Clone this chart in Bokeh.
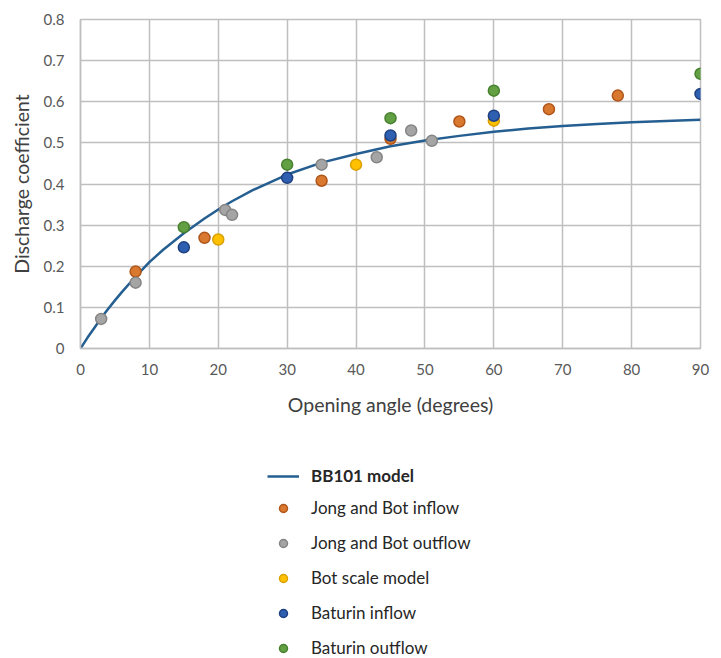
from bokeh.plotting import figure
from bokeh.layouts import column
from bokeh.models import Range1d, Legend, LegendItem, FixedTicker
from bokeh.embed import file_html
from bokeh.resources import INLINE

# BB101 model curve
model_angle = [0, 1, 2, 3, 4, 5, 6, 8, 10, 12, 15, 18, 20, 22, 25, 30, 35, 40, 45, 50, 55, 60, 65, 70, 75, 80, 85, 90]
model_cd = [0, 0.026, 0.05, 0.074, 0.096, 0.117, 0.137, 0.175, 0.21, 0.24, 0.28, 0.316, 0.338, 0.358, 0.385,
            0.423, 0.452, 0.473, 0.492, 0.506, 0.517, 0.527, 0.535, 0.541, 0.546, 0.55, 0.553, 0.556]

jb_in_angle = [8, 18, 35, 45, 55, 68, 78]
jb_in_cd = [0.187, 0.269, 0.408, 0.51, 0.552, 0.582, 0.615]

jb_out_angle = [3, 8, 21, 22, 35, 43, 48, 51]
jb_out_cd = [0.072, 0.16, 0.337, 0.325, 0.447, 0.465, 0.53, 0.505]

bot_angle = [20, 40, 60]
bot_cd = [0.265, 0.447, 0.554]

bat_in_angle = [15, 30, 45, 60, 90]
bat_in_cd = [0.246, 0.415, 0.518, 0.566, 0.619]

bat_out_angle = [15, 30, 45, 60, 90]
bat_out_cd = [0.295, 0.447, 0.56, 0.627, 0.668]

series_labels = ["BB101 model", "Jong and Bot inflow", "Jong and Bot outflow",
                 "Bot scale model", "Baturin inflow", "Baturin outflow"]

x_ticks = [0, 10, 20, 30, 40, 50, 60, 70, 80, 90]
y_ticks = [0, 0.1, 0.2, 0.3, 0.4, 0.5, 0.6, 0.7, 0.8]

FONT = "Lato"
LINE_COLOR = "#255E91"
PT_STYLES = [("#D9782F", "#B0561A"), ("#A5A5A5", "#858585"), ("#FFC000", "#D9A000"),
             ("#2E5FB0", "#1F4080"), ("#62A043", "#47802E")]

MAIN_H = 418
p = figure(width=713, height=MAIN_H, output_backend="svg", toolbar_location=None,
           x_range=Range1d(0, 90), y_range=Range1d(0, 0.8),
           min_border_left=80, min_border_right=13, min_border_top=19, min_border_bottom=0)
p.outline_line_color = "#BFBFBF"
p.outline_line_width = 1.5
p.background_fill_color = "white"
p.border_fill_color = "white"

for ax in (p.xaxis[0], p.yaxis[0]):
    ax.axis_line_color = "#BFBFBF"
    ax.axis_line_width = 1.5
    ax.major_tick_line_color = None
    ax.minor_tick_line_color = None
    ax.major_tick_out = 0
    ax.major_tick_in = 0
    ax.major_label_text_font = FONT
    ax.major_label_text_font_size = "15px"
    ax.major_label_text_color = "#595959"
    ax.axis_label_text_font = FONT
    ax.axis_label_text_font_size = "19.5px"
    ax.axis_label_text_color = "#404040"
    ax.axis_label_text_font_style = "normal"

p.xaxis.ticker = FixedTicker(ticks=x_ticks)
p.yaxis.ticker = FixedTicker(ticks=y_ticks)
p.yaxis.major_label_overrides = {0: "0"}
p.xaxis.axis_label = "Opening angle (degrees)"
p.yaxis.axis_label = "Discharge coefficient"
p.xaxis.major_label_standoff = 15
p.yaxis.major_label_standoff = 16
p.xaxis.axis_label_standoff = 15
p.yaxis.axis_label_standoff = 8

p.xgrid.ticker = FixedTicker(ticks=x_ticks)
p.ygrid.ticker = FixedTicker(ticks=y_ticks)
p.grid.grid_line_color = "#BFBFBF"
p.grid.grid_line_width = 1.5

p.line(model_angle, model_cd, line_color=LINE_COLOR, line_width=2.5)
point_series = [(jb_in_angle, jb_in_cd), (jb_out_angle, jb_out_cd), (bot_angle, bot_cd),
                (bat_in_angle, bat_in_cd), (bat_out_angle, bat_out_cd)]
for (xs, ys), (fill, edge) in zip(point_series, PT_STYLES):
    p.scatter(xs, ys, size=11, fill_color=fill, line_color=edge, line_width=1.5)

# Legend panel below the chart: same series, drawn outside this panel's view,
# so that only their legend entries show.
LEG_H = 658 - MAIN_H
q = figure(width=713, height=LEG_H, output_backend="svg", toolbar_location=None,
           x_range=Range1d(1000, 1001), y_range=Range1d(1000, 1001),
           min_border=0, min_border_left=0, min_border_right=0, min_border_top=0, min_border_bottom=0)
q.xaxis.visible = False
q.yaxis.visible = False
q.grid.visible = False
q.outline_line_color = None

lr = q.line(model_angle, model_cd, line_color=LINE_COLOR, line_width=2.5)
renderers = [lr]
for (xs, ys), (fill, edge) in zip(point_series, PT_STYLES):
    renderers.append(q.scatter(xs, ys, size=10, fill_color=fill, line_color=edge, line_width=1.5))

def make_legend(items, loc, style):
    lg = Legend(items=items, orientation="vertical", location=loc)
    lg.label_text_font = FONT
    lg.label_text_font_size = "17px"
    lg.label_text_font_style = style
    lg.label_text_color = "#262626"
    lg.border_line_color = None
    lg.background_fill_alpha = 0
    lg.glyph_width = 32
    lg.glyph_height = 20
    lg.label_height = 20
    lg.spacing = 14
    lg.label_standoff = 12
    lg.margin = 0
    lg.padding = 0
    return lg

LEG_X = 187
items = [LegendItem(label=lab, renderers=[r]) for lab, r in zip(series_labels, renderers)]
q.add_layout(make_legend(items[1:], (LEG_X, 0), "normal"), "center")
q.add_layout(make_legend(items[:1], (LEG_X, 172), "bold"), "center")

open("out.html", "w").write(file_html(column(p, q, spacing=0), INLINE))
